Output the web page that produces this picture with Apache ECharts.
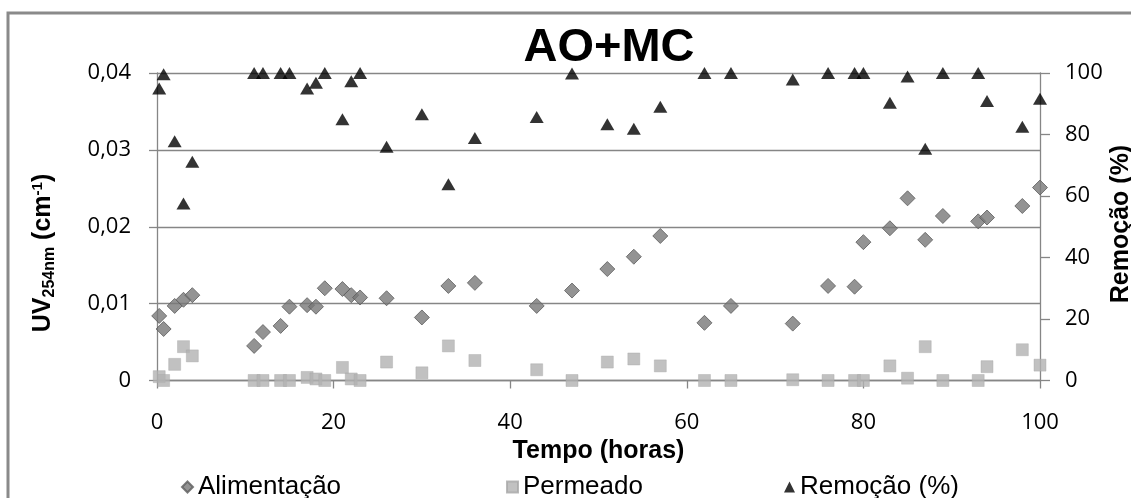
<!DOCTYPE html>
<html>
<head>
<meta charset="utf-8">
<title>AO+MC</title>
<script src="https://cdn.jsdelivr.net/npm/echarts@6/dist/echarts.min.js"></script>
<style>
  html, body { margin: 0; padding: 0; background: #fff; }
  #main { width: 1131px; height: 498px; }
</style>
</head>
<body>
<div id="main"></div>
<script>
// tempo (horas)
const horas = [0.25, 0.75, 2, 3, 4, 11, 12, 14, 15, 17, 18, 19, 21, 22, 23, 26, 30, 33, 36, 43, 47, 51, 54, 57, 62, 65, 72, 76, 79, 80, 83, 85, 87, 89, 93, 94, 98, 100];
// UV254nm (cm-1)
const alimentacao = [0.0084, 0.0067, 0.0097, 0.0105, 0.0111, 0.0045, 0.0063, 0.0071, 0.0096, 0.0098, 0.0096, 0.0120, 0.0119, 0.0111, 0.0108, 0.0107, 0.0082, 0.0123, 0.0127, 0.0097, 0.0117, 0.0145, 0.0161, 0.0188, 0.0075, 0.0097, 0.0074, 0.0123, 0.0122, 0.0180, 0.0198, 0.0237, 0.0183, 0.0214, 0.0207, 0.0212, 0.0227, 0.0251];
const permeado = [0.0005, 0, 0.0021, 0.0044, 0.0032, 0, 0, 0, 0, 0.0004, 0.0002, 0, 0.0017, 0.0002, 0, 0.0024, 0.0010, 0.0045, 0.0026, 0.0014, 0, 0.0024, 0.0028, 0.0019, 0, 0, 0.0001, 0, 0, 0, 0.0019, 0.0003, 0.0044, 0, 0, 0.0018, 0.0040, 0.0020];
// Remoção (%)
const remocao = [95.0, 99.6, 77.8, 57.6, 71.1, 100, 100, 100, 100, 95.0, 96.8, 100, 85.0, 97.3, 100, 76.0, 86.6, 63.8, 78.9, 85.7, 99.8, 83.3, 81.9, 89.0, 100, 100, 97.9, 100, 100, 100, 90.3, 98.9, 75.4, 100, 100, 90.9, 82.5, 91.6];
const xTicks = [0, 20, 40, 60, 80, 100];

function pares(ys) {
    return horas.map((h, i) => [h, ys[i]]);
}

const gridCor = '#868686';
const numFont = '"Open Sans", sans-serif';
const boldFont = '"Liberation Sans", Arial, sans-serif';

const chart = echarts.init(document.getElementById('main'), null, { renderer: 'canvas' });

const option = {
    animation: false,
    backgroundColor: '#fff',
    title: {
        text: 'AO+MC',
        left: 604,
        top: 20,
        textAlign: 'center',
        textStyle: { fontFamily: boldFont, fontWeight: 'bold', fontSize: 47, color: '#000' }
    },
    grid: { left: 157, right: 91, top: 73, bottom: 117.5 },
    legend: [
        { data: ['Alimentação'], left: 181 },
        { data: ['Permeado'], left: 506 },
        { data: ['Remoção (%)'], left: 784 }
    ].map(l => Object.assign(l, {
        top: 474, padding: 0,
        itemWidth: 11, itemHeight: 11, itemGap: 5,
        textStyle: { fontFamily: boldFont, fontSize: 26, color: '#000' }
    })),
    xAxis: {
        type: 'value', min: 0, max: 100, interval: 20,
        name: 'Tempo (horas)', nameLocation: 'middle', nameGap: 54,
        nameTextStyle: { fontFamily: boldFont, fontWeight: 'bold', fontSize: 25, color: '#000' },
        axisLine: { show: true, lineStyle: { color: gridCor, width: 1.3 } },
        axisTick: { show: true, length: 8, lineStyle: { color: gridCor, width: 1.3 } },
        axisLabel: { margin: 31, fontFamily: numFont, fontSize: 22, color: '#000', formatter: v => xTicks.indexOf(v) >= 0 ? String(v) : '' },
        splitLine: { show: false }
    },
    yAxis: [
        {
            type: 'value', min: 0, max: 0.04, interval: 0.01, position: 'left',
            axisLine: { show: true, lineStyle: { color: gridCor, width: 1.3 } },
            axisTick: { show: true, length: 8, lineStyle: { color: gridCor, width: 1.3 } },
            axisLabel: { margin: 26, fontFamily: numFont, fontSize: 22, color: '#000', formatter: v => v === 0 ? '0' : v.toFixed(2).replace('.', ',') },
            splitLine: { show: true, lineStyle: { color: gridCor, width: 1.3 } }
        },
        {
            type: 'value', min: 0, max: 100, interval: 20, position: 'right',
            axisLine: { show: true, lineStyle: { color: gridCor, width: 1.3 } },
            axisTick: { show: true, length: 10, lineStyle: { color: gridCor, width: 1.3 } },
            axisLabel: { margin: 25, fontFamily: numFont, fontSize: 22, color: '#000' },
            splitLine: { show: false }
        }
    ],
    graphic: [
        {
            // moldura do gráfico
            type: 'rect', z: -1, silent: true,
            shape: { x: 8, y: 13, width: 1300, height: 700 },
            style: { fill: 'none', stroke: '#8a8a8a', lineWidth: 3 }
        },
        {
            type: 'text', x: 43, y: 253, rotation: Math.PI / 2,
            style: {
                text: '{b|UV}{s|254nm}{b| (cm}{p|-1}{b|)}',
                align: 'center', verticalAlign: 'middle',
                rich: {
                    b: { fontFamily: boldFont, fontWeight: 'bold', fontSize: 25, color: '#000', lineHeight: 34, verticalAlign: 'middle' },
                    s: { fontFamily: boldFont, fontWeight: 'bold', fontSize: 16, color: '#000', lineHeight: 34, verticalAlign: 'bottom', padding: [0, 0, 2, 0] },
                    p: { fontFamily: boldFont, fontWeight: 'bold', fontSize: 15, color: '#000', lineHeight: 34, verticalAlign: 'top', padding: [4, 0, 0, 0] }
                }
            }
        },
        {
            type: 'text', x: 1121, y: 224, rotation: Math.PI / 2,
            style: {
                text: 'Remoção (%)', align: 'center', verticalAlign: 'middle',
                font: 'bold 25px ' + boldFont, fill: '#000'
            }
        }
    ],
    series: [
        {
            name: 'Alimentação', type: 'scatter', yAxisIndex: 0,
            symbol: 'diamond', symbolSize: 15,
            itemStyle: { color: '#787878', borderColor: '#5c5c5c', borderWidth: 1 },
            data: pares(alimentacao)
        },
        {
            name: 'Permeado', type: 'scatter', yAxisIndex: 0,
            symbol: 'rect', symbolSize: 12,
            itemStyle: { color: '#b2b2b2', borderColor: '#a8a8a8', borderWidth: 0.5 },
            data: pares(permeado)
        },
        {
            name: 'Remoção (%)', type: 'scatter', yAxisIndex: 1,
            symbol: 'triangle', symbolSize: [14, 12],
            itemStyle: { color: '#000' },
            data: pares(remocao)
        }
    ]
};

chart.setOption(option);
</script>
</body>
</html>
